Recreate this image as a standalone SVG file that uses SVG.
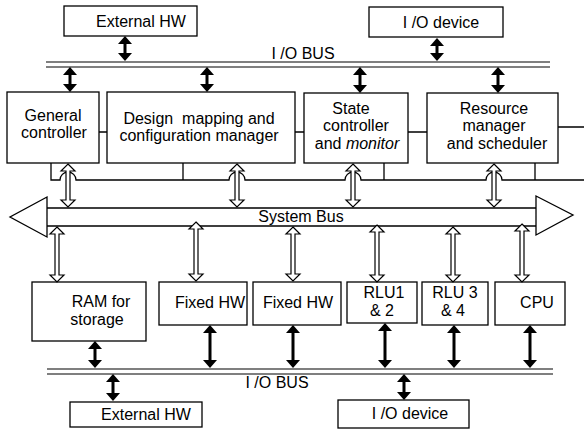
<svg xmlns="http://www.w3.org/2000/svg" width="584" height="430" viewBox="0 0 584 430">
<style>
  .box { fill: #fff; stroke: #000; stroke-width: 1.3; }
  .t { font-family: "Liberation Sans", Arial, sans-serif; font-size: 16px; fill: #000; text-anchor: middle; }
  .ln { fill: none; stroke: #000; stroke-width: 1.3; }
  .bus { fill: none; stroke: #000; stroke-width: 1.2; }
  .hollow { fill: #fff; stroke: #000; stroke-width: 1.2; stroke-linejoin: miter; }
  .solid { fill: #000; stroke: none; }
</style>
<rect width="584" height="430" fill="#fff"/>

<!-- buses -->
<g id="io-bus-top">
  <line class="bus" x1="46" y1="62" x2="550" y2="62"/>
  <line class="bus" x1="46" y1="67" x2="550" y2="67"/>
  <text class="t" x="303" y="59">I /O BUS</text>
</g>
<g id="io-bus-bottom">
  <line class="bus" x1="47" y1="369" x2="553" y2="369"/>
  <line class="bus" x1="47" y1="374" x2="553" y2="374"/>
  <text class="t" x="277" y="388">I /O BUS</text>
</g>
<g id="system-bus">
  <path class="ln" d="M47,208 L536,208 M47,226 L536,226"/>
  <path class="ln" d="M47,197 L10,217 L47,237 Z"/>
  <path class="ln" d="M536,196 L573,215 L536,235 Z"/>
  <text class="t" x="301" y="222">System Bus</text>
</g>

<!-- nodes -->
<g id="ext-hw-top"><rect class="box" x="64" y="6" width="133" height="30"/><text class="t" x="141" y="27">External HW</text></g>
<g id="io-device-top"><rect class="box" x="369" y="7" width="134" height="30"/><text class="t" x="441" y="28">I /O device</text></g>

<g id="general-controller"><rect class="box" x="7" y="92" width="92" height="71"/>
  <text class="t" x="53" y="121">General</text><text class="t" x="54" y="138">controller</text></g>
<g id="design-mapping"><rect class="box" x="107" y="92" width="188" height="71"/>
  <text class="t" x="199" y="124" xml:space="preserve">Design  mapping and</text><text class="t" x="199" y="141">configuration manager</text></g>
<g id="state-controller"><rect class="box" x="304" y="93" width="104" height="70"/>
  <text class="t" x="351" y="114">State</text><text class="t" x="356" y="131">controller</text>
  <text class="t" x="357" y="149">and <tspan font-style="italic">monitor</tspan></text></g>
<g id="resource-manager"><rect class="box" x="427" y="93" width="131" height="70"/>
  <text class="t" x="494" y="114">Resource</text><text class="t" x="494" y="131">manager</text>
  <text class="t" x="497" y="149">and scheduler</text></g>

<g id="ram"><rect class="box" x="32" y="282" width="114" height="59"/>
  <text class="t" x="101" y="307">RAM for</text><text class="t" x="97" y="325">storage</text></g>
<g id="fixed-hw-1"><rect class="box" x="159" y="282" width="88" height="43"/><text class="t" x="210" y="308">Fixed HW</text></g>
<g id="fixed-hw-2"><rect class="box" x="253" y="282" width="88" height="43"/><text class="t" x="298" y="308">Fixed HW</text></g>
<g id="rlu12"><rect class="box" x="347" y="282" width="70" height="41"/>
  <text class="t" x="384" y="298">RLU1</text><text class="t" x="382" y="316">&amp; 2</text></g>
<g id="rlu34"><rect class="box" x="422" y="282" width="66" height="43"/>
  <text class="t" x="455" y="298">RLU 3</text><text class="t" x="453" y="316">&amp; 4</text></g>
<g id="cpu"><rect class="box" x="495" y="282" width="70" height="43"/><text class="t" x="537" y="308">CPU</text></g>

<g id="ext-hw-bottom"><rect class="box" x="70" y="402" width="132" height="25"/><text class="t" x="146" y="420">External HW</text></g>
<g id="io-device-bottom"><rect class="box" x="338" y="400" width="131" height="28"/><text class="t" x="410" y="419">I /O device</text></g>

<!-- connectors -->
<g id="connectors">
  <!-- links between top boxes -->
  <path class="ln" d="M99,132 H107 M295,132 H304 M408,132 H427 M558,127 H584"/>
  <!-- control line with hops -->
  <path class="ln" d="M51,163 V180 H60 A8,8 0 0 1 76,180 H229 A8,8 0 0 1 245,180 H345 A8,8 0 0 1 361,180 H486 A8,8 0 0 1 502,180 H584 M183,163 V180 M384,163 V180 M535,163 V180"/>

  <!-- hollow arrows, top boxes to system bus -->
  <path class="hollow" d="M68,164 L75,171 L70,171 L70,200 L75,200 L68,207 L61,200 L66,200 L66,171 L61,171 Z"/>
  <path class="hollow" d="M237,164 L244,171 L239,171 L239,200 L244,200 L237,207 L230,200 L235,200 L235,171 L230,171 Z"/>
  <path class="hollow" d="M353,164 L360,171 L355,171 L355,200 L360,200 L353,207 L346,200 L351,200 L351,171 L346,171 Z"/>
  <path class="hollow" d="M494,164 L501,171 L496,171 L496,200 L501,200 L494,207 L487,200 L492,200 L492,171 L487,171 Z"/>

  <!-- hollow arrows, system bus to lower boxes -->
  <path class="hollow" d="M57,227 L64,234 L59,234 L59,275 L64,275 L57,282 L50,275 L55,275 L55,234 L50,234 Z"/>
  <path class="hollow" d="M196,222 L203,229 L198,229 L198,274 L203,274 L196,281 L189,274 L194,274 L194,229 L189,229 Z"/>
  <path class="hollow" d="M293,227 L300,234 L295,234 L295,274 L300,274 L293,281 L286,274 L291,274 L291,234 L286,234 Z"/>
  <path class="hollow" d="M377,225 L384,232 L379,232 L379,275 L384,275 L377,282 L370,275 L375,275 L375,232 L370,232 Z"/>
  <path class="hollow" d="M453,227 L460,234 L455,234 L455,275 L460,275 L453,282 L446,275 L451,275 L451,234 L446,234 Z"/>
  <path class="hollow" d="M522,224 L529,231 L524,231 L524,275 L529,275 L522,282 L515,275 L520,275 L520,231 L515,231 Z"/>

  <!-- solid bold arrows, top -->
  <path class="solid" d="M125,36 L132,44 L126.5,44 L126.5,53 L132,53 L125,61 L118,53 L123.5,53 L123.5,44 L118,44 Z"/>
  <path class="solid" d="M437,38 L444,46 L438.5,46 L438.5,53 L444,53 L437,61 L430,53 L435.5,53 L435.5,46 L430,46 Z"/>
  <path class="solid" d="M70,67 L77,75 L71.5,75 L71.5,84 L77,84 L70,92 L63,84 L68.5,84 L68.5,75 L63,75 Z"/>
  <path class="solid" d="M207,67 L214,75 L208.5,75 L208.5,84 L214,84 L207,92 L200,84 L205.5,84 L205.5,75 L200,75 Z"/>
  <path class="solid" d="M360,67 L367,75 L361.5,75 L361.5,85 L367,85 L360,93 L353,85 L358.5,85 L358.5,75 L353,75 Z"/>
  <path class="solid" d="M498,67 L505,75 L499.5,75 L499.5,85 L505,85 L498,93 L491,85 L496.5,85 L496.5,75 L491,75 Z"/>

  <!-- solid bold arrows, bottom -->
  <path class="solid" d="M95,341 L102,349 L96.5,349 L96.5,360 L102,360 L95,368 L88,360 L93.5,360 L93.5,349 L88,349 Z"/>
  <path class="solid" d="M210,325 L217,333 L211.5,333 L211.5,360 L217,360 L210,368 L203,360 L208.5,360 L208.5,333 L203,333 Z"/>
  <path class="solid" d="M293,325 L300,333 L294.5,333 L294.5,360 L300,360 L293,368 L286,360 L291.5,360 L291.5,333 L286,333 Z"/>
  <path class="solid" d="M385,323 L392,331 L386.5,331 L386.5,360 L392,360 L385,368 L378,360 L383.5,360 L383.5,331 L378,331 Z"/>
  <path class="solid" d="M454,325 L461,333 L455.5,333 L455.5,360 L461,360 L454,368 L447,360 L452.5,360 L452.5,333 L447,333 Z"/>
  <path class="solid" d="M530,325 L537,333 L531.5,333 L531.5,360 L537,360 L530,368 L523,360 L528.5,360 L528.5,333 L523,333 Z"/>
  <path class="solid" d="M113,374 L120,382 L114.5,382 L114.5,393 L120,393 L113,401 L106,393 L111.5,393 L111.5,382 L106,382 Z"/>
  <path class="solid" d="M404,374 L411,382 L405.5,382 L405.5,392 L411,392 L404,400 L397,392 L402.5,392 L402.5,382 L397,382 Z"/>
</g>
</svg>
